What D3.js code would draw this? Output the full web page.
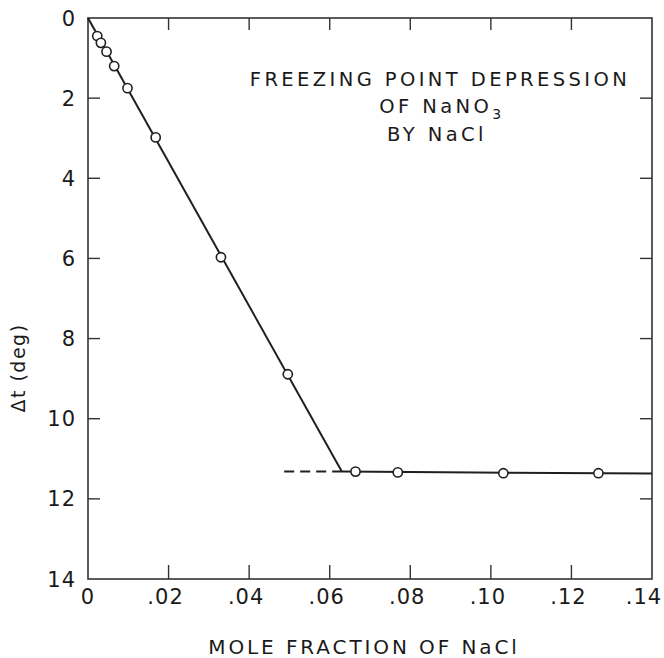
<!DOCTYPE html>
<html>
<head>
<meta charset="utf-8">
<script src="https://cdn.jsdelivr.net/npm/d3@7"></script>
<style>
  body { margin: 0; background: #fff; }
  text { font-family: "DejaVu Sans", sans-serif; fill: #1a1a1a; }
</style>
</head>
<body>
<div id="chart"></div>
<script>
const width = 664,
  height = 658,
  margin = { top: 18, bottom: 79, left: 88, right: 12 },
  radius = 4.6,
  tickLen = 12;

// measured points, straight (ice) branch
const xSlope = [0.0023, 0.0032, 0.0046, 0.0065, 0.0098, 0.0168, 0.0330, 0.0496];
const ySlope = [0.45, 0.62, 0.84, 1.20, 1.75, 2.98, 5.97, 8.89];

// measured points, flat (eutectic) branch
const xFlat = [0.0664, 0.0769, 0.1031, 0.1267];
const yFlat = [11.32, 11.34, 11.36, 11.36];

// drawn lines through the points
const slopeLine = [[0, 0], [0.063, 11.32]];
const flatLine = [[0.063, 11.32], [0.14, 11.37]];
const dashLine = [[0.0487, 11.32], [0.063, 11.32]];

const xTicks = [0, 0.02, 0.04, 0.06, 0.08, 0.10, 0.12, 0.14];
const xTickLabels = ["0", ".02", ".04", ".06", ".08", ".10", ".12", ".14"];
const yTicks = [0, 2, 4, 6, 8, 10, 12, 14];

const titleLines = ["FREEZING POINT DEPRESSION", "OF NaNO", "BY NaCl"];

const svg = d3
  .select("#chart")
  .append("svg")
  .attr("width", width)
  .attr("height", height);

const xScale = d3
  .scaleLinear()
  .domain([0, 0.14])
  .range([margin.left, width - margin.right]);

const yScale = d3
  .scaleLinear()
  .domain([0, 14])
  .range([margin.top, height - margin.bottom]);

const ink = "#1f1f1f";

// frame
svg
  .append("rect")
  .attr("x", xScale(0))
  .attr("y", yScale(0))
  .attr("width", xScale(0.14) - xScale(0))
  .attr("height", yScale(14) - yScale(0))
  .attr("fill", "none")
  .attr("stroke", "#333")
  .attr("stroke-width", 1.6);

// inward ticks on all four sides
const innerX = xTicks.slice(1, -1);
const innerY = yTicks.slice(1, -1);

svg.append("g")
  .selectAll("line")
  .data(innerX)
  .join("line")
  .attr("x1", d => xScale(d))
  .attr("x2", d => xScale(d))
  .attr("y1", yScale(14))
  .attr("y2", yScale(14) - tickLen - 2)
  .attr("stroke", "#333")
  .attr("stroke-width", 1.4);

svg.append("g")
  .selectAll("line")
  .data(innerX)
  .join("line")
  .attr("x1", d => xScale(d))
  .attr("x2", d => xScale(d))
  .attr("y1", yScale(0))
  .attr("y2", yScale(0) + tickLen)
  .attr("stroke", "#333")
  .attr("stroke-width", 1.4);

svg.append("g")
  .selectAll("line")
  .data(innerY)
  .join("line")
  .attr("x1", xScale(0))
  .attr("x2", xScale(0) + tickLen)
  .attr("y1", d => yScale(d))
  .attr("y2", d => yScale(d))
  .attr("stroke", "#333")
  .attr("stroke-width", 1.4);

svg.append("g")
  .selectAll("line")
  .data(innerY)
  .join("line")
  .attr("x1", xScale(0.14))
  .attr("x2", xScale(0.14) - tickLen)
  .attr("y1", d => yScale(d))
  .attr("y2", d => yScale(d))
  .attr("stroke", "#333")
  .attr("stroke-width", 1.4);

// tick labels
svg.append("g")
  .selectAll("text")
  .data(xTicks)
  .join("text")
  .attr("x", d => xScale(d))
  .attr("dx", (d, i) => (i === 0 ? 0 : i === xTicks.length - 1 ? -8 : -3))
  .attr("y", yScale(14) + 25)
  .attr("text-anchor", "middle")
  .attr("font-size", 21)
  .attr("letter-spacing", 1)
  .text((d, i) => xTickLabels[i]);

svg.append("g")
  .selectAll("text")
  .data(yTicks)
  .join("text")
  .attr("x", xScale(0) - 12)
  .attr("y", d => yScale(d))
  .attr("dy", "0.36em")
  .attr("text-anchor", "end")
  .attr("font-size", 21)
  .attr("letter-spacing", 1)
  .text(d => d);

// axis titles
svg
  .append("text")
  .attr("x", 364)
  .attr("y", 654)
  .attr("text-anchor", "middle")
  .attr("font-size", 20)
  .attr("letter-spacing", 2.9)
  .text("MOLE FRACTION OF NaCl");

svg
  .append("text")
  .attr("transform", "translate(25,368) rotate(-90)")
  .attr("text-anchor", "middle")
  .attr("font-size", 19)
  .attr("letter-spacing", 1.5)
  .text("\u0394t (deg)");

// fitted lines
const line = d3.line().x(d => xScale(d[0])).y(d => yScale(d[1]));

svg.append("path")
  .attr("d", line(slopeLine))
  .attr("fill", "none")
  .attr("stroke", ink)
  .attr("stroke-width", 2);

svg.append("path")
  .attr("d", line(flatLine))
  .attr("fill", "none")
  .attr("stroke", ink)
  .attr("stroke-width", 2);

svg.append("path")
  .attr("d", line(dashLine))
  .attr("fill", "none")
  .attr("stroke", ink)
  .attr("stroke-width", 2)
  .attr("stroke-dasharray", "10,6");

// data circles
const points = xSlope
  .map((x, i) => [x, ySlope[i]])
  .concat(xFlat.map((x, i) => [x, yFlat[i]]));

svg.append("g")
  .selectAll("circle")
  .data(points)
  .join("circle")
  .attr("cx", d => xScale(d[0]))
  .attr("cy", d => yScale(d[1]))
  .attr("r", radius)
  .attr("fill", "#fff")
  .attr("stroke", ink)
  .attr("stroke-width", 1.6);

// title block
const title = svg
  .append("g")
  .attr("font-size", 19.5)
  .attr("letter-spacing", 3.4);

title.append("text")
  .attr("x", 440)
  .attr("y", 86)
  .attr("text-anchor", "middle")
  .text(titleLines[0]);

const t2 = title.append("text")
  .attr("x", 442)
  .attr("y", 113)
  .attr("text-anchor", "middle");
t2.append("tspan").text(titleLines[1]);
t2.append("tspan")
  .attr("font-size", 14)
  .attr("dy", 6)
  .text("3");

title.append("text")
  .attr("x", 437)
  .attr("y", 141)
  .attr("text-anchor", "middle")
  .text(titleLines[2]);
</script>
</body>
</html>
